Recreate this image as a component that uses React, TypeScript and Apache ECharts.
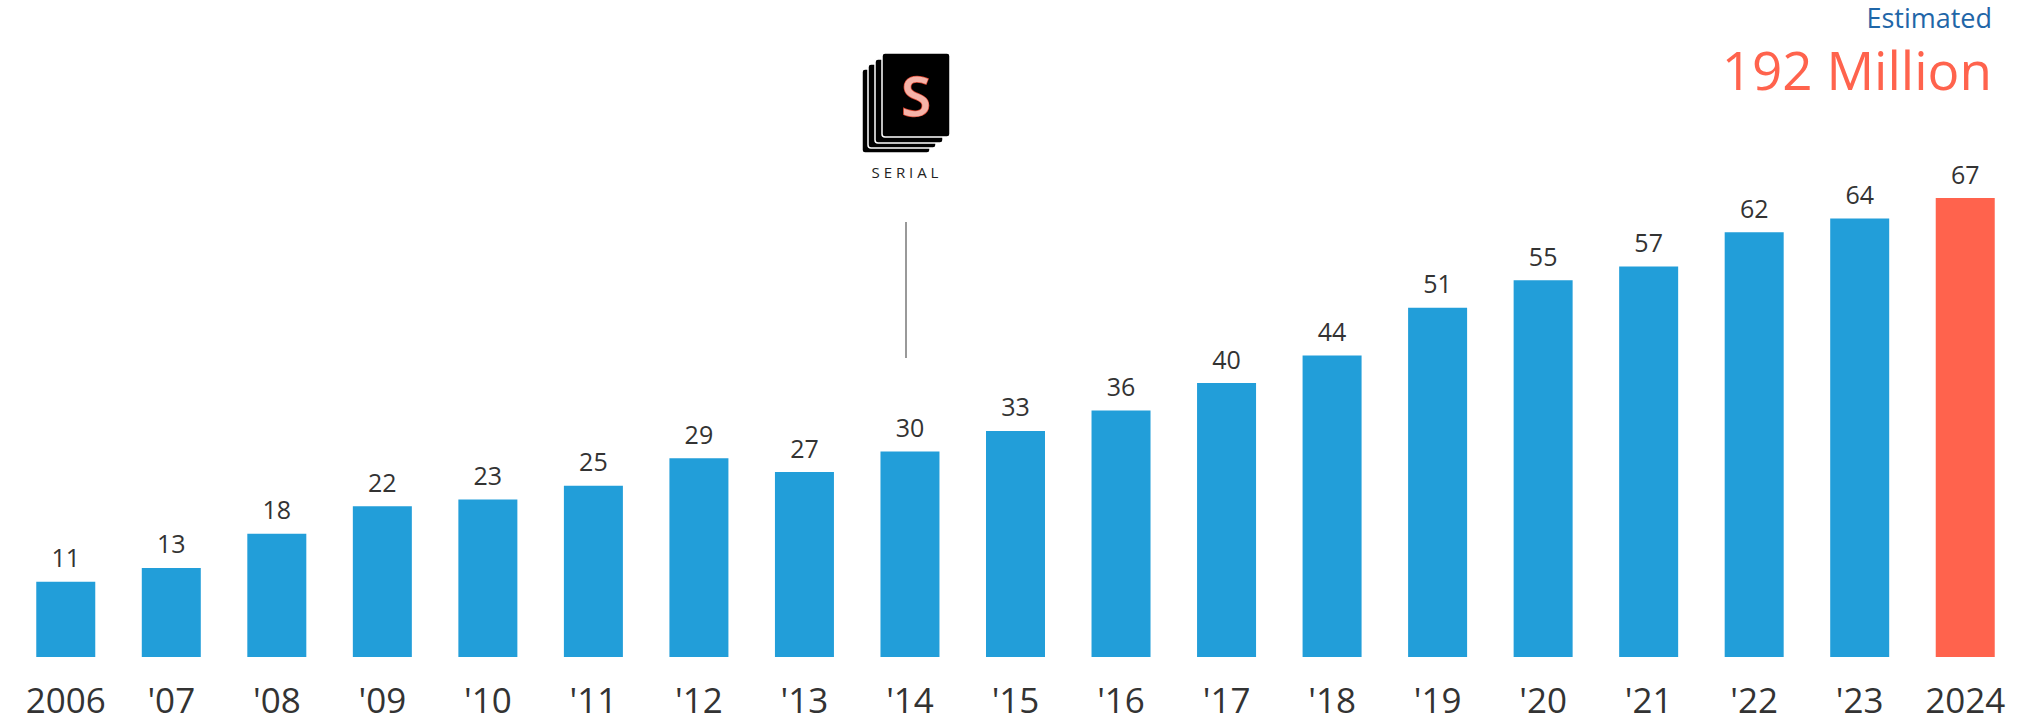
import React, { useEffect, useRef } from "react";
import * as echarts from "echarts";

const categories = ["2006", "'07", "'08", "'09", "'10", "'11", "'12", "'13", "'14", "'15", "'16", "'17", "'18", "'19", "'20", "'21", "'22", "'23", "2024"];
const listeners = [11, 13, 18, 22, 23, 25, 29, 27, 30, 33, 36, 40, 44, 51, 55, 57, 62, 64, 67];
const estimatedLabel = "Estimated";
const estimatedValue = "192 Million";

const BLUE = "#229ED9";
const RED = "#FF634D";
const FONT = "'Open Sans', sans-serif";

export default function App() {
  const ref = useRef<HTMLDivElement>(null);
  useEffect(() => {
    if (!ref.current) return;
    const chart = echarts.init(ref.current, null, { renderer: "svg" });
    const last = listeners.length - 1;
    const layers = [
      { x: 862, y: 69 },
      { x: 868, y: 64 },
      { x: 875, y: 59 },
      { x: 882, y: 53 },
    ];
    chart.setOption({
      animation: false,
      backgroundColor: "#fff",
      grid: { left: 13, right: 10, top: 109, bottom: 67, containLabel: false },
      xAxis: {
        type: "category",
        data: categories,
        axisLine: { show: false },
        axisTick: { show: false },
        axisLabel: {
          color: "#333",
          fontSize: 35,
          fontFamily: FONT,
          margin: 24,
          interval: 0,
          lineHeight: 36,
        },
      },
      yAxis: {
        type: "value",
        min: 0,
        max: 80,
        show: false,
        splitLine: { show: false },
      },
      series: [
        {
          type: "bar",
          barWidth: 59,
          data: listeners.map((v, i) => ({
            value: v,
            itemStyle: { color: i === last ? RED : BLUE },
          })),
          label: {
            show: true,
            position: "top",
            distance: 12,
            color: "#333",
            fontSize: 25,
            fontFamily: FONT,
          },
        },
      ],
      graphic: [
        {
          type: "text",
          right: 36,
          top: 3,
          style: { text: estimatedLabel, fontSize: 27, lineHeight: 28, fontFamily: FONT, fill: "#1F66A8" },
        },
        {
          type: "text",
          right: 36,
          top: 42,
          style: { text: estimatedValue, fontSize: 53, lineHeight: 54, fontFamily: FONT, fill: RED },
        },
        ...layers.map((l) => ({
          type: "rect",
          shape: { x: l.x, y: l.y, width: 68, height: 84, r: 3 },
          style: { fill: "#000", stroke: "#fff", lineWidth: 1.5 },
        })),
        {
          type: "text",
          x: 916,
          y: 95,
          style: {
            text: "S",
            fontSize: 54,
            fontFamily: FONT,
            fontWeight: 600,
            fill: "#F6B3A8",
            stroke: "#D8432F",
            lineWidth: 1.5,
            align: "center",
            verticalAlign: "middle",
            shadowBlur: 6,
            shadowColor: "#E0442E",
          },
        },
        {
          type: "text",
          x: 905,
          y: 172,
          style: {
            text: "S E R I A L",
            fontSize: 15,
            fontFamily: FONT,
            fill: "#222",
            align: "center",
            verticalAlign: "middle",
          },
        },
        {
          type: "line",
          shape: { x1: 906, y1: 222, x2: 906, y2: 358 },
          style: { stroke: "#777", lineWidth: 1.5 },
        },
      ],
    });
    return () => chart.dispose();
  }, []);
  return (
    <div
      ref={ref}
      style={{ position: "fixed", left: 0, top: 0, width: 2028, height: 724 }}
    />
  );
}
